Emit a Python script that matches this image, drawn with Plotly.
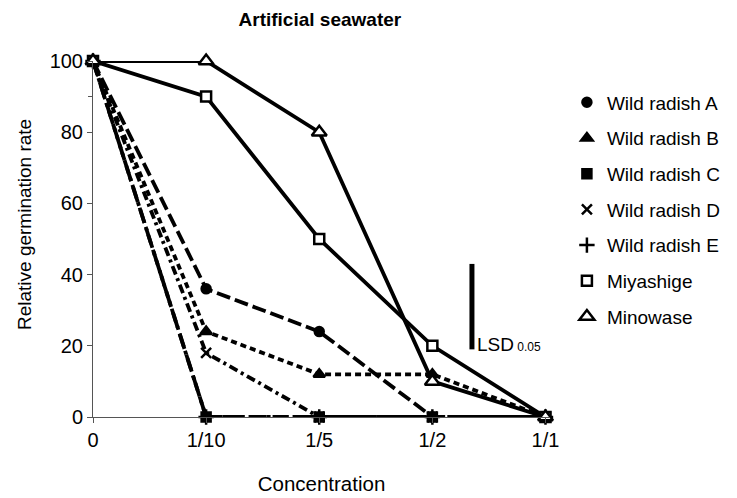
import plotly.graph_objects as go

categories = ["0", "1/10", "1/5", "1/2", "1/1"]
series_names = ["Wild radish A", "Wild radish B", "Wild radish C", "Wild radish D",
                "Wild radish E", "Miyashige", "Minowase"]
wild_a = [100, 36, 24, 0, 0]
wild_b = [100, 24, 12, 12, 0]
wild_c = [100, 0, 0, 0, 0]
wild_d = [100, 18, 0, 0, 0]
wild_e = [100, 0, 0, 0, 0]
miyashige = [100, 90, 50, 20, 0]
minowase = [100, 100, 80, 10, 0]
lsd_x = [3.35, 3.35]
lsd_y = [19, 43]

values = [wild_a, wild_b, wild_c, wild_d, wild_e, miyashige, minowase]
dashes = ["14px,5px", "6px,4px", "14px,4px,4px,4px", "9px,4px,3px,4px", "16px,6px", "solid", "solid"]
symbols = ["circle", "triangle-up", "square", "x-thin", "cross-thin", "square", "triangle-up"]
fills = ["black", "black", "black", "black", "black", "white", "white"]
sizes = [9, 10, 9, 10, 11, 10, 13]

fig = go.Figure()
xs = list(range(len(categories)))
for i, (name, vals) in enumerate(zip(series_names, values)):
    fig.add_trace(go.Scatter(
        x=xs, y=vals, name=name, mode="lines+markers", showlegend=False,
        line=dict(color="black", width=3.8, dash=dashes[i]),
        marker=dict(symbol=symbols[i], size=sizes[i], color=fills[i],
                    line=dict(color="black", width=2.5)),
        cliponaxis=False,
    ))
# legend entries (marker only, like the reference key)
for i, name in enumerate(series_names):
    fig.add_trace(go.Scatter(
        x=[None], y=[None], name=name, mode="markers", legendgroup=name,
        marker=dict(symbol=symbols[i], size=sizes[i], color=fills[i],
                    line=dict(color="black", width=2.5)),
    ))

fig.add_trace(go.Scatter(x=lsd_x, y=lsd_y, mode="lines", showlegend=False,
                         line=dict(color="black", width=5), hoverinfo="skip"))
fig.add_annotation(x=lsd_x[0] + 0.03, y=lsd_y[0] + 1.5, xref="x", yref="y",
                   text="LSD<span style='font-size:12px'> 0.05</span>", showarrow=False,
                   xanchor="left", yanchor="middle", font=dict(size=19, color="black"))

fig.add_annotation(x=-0.151, y=0.542, xref="paper", yref="paper", textangle=-90,
                   text="Relative germination rate", showarrow=False,
                   xanchor="center", yanchor="middle", font=dict(size=19, color="black"))

font = "Liberation Sans, Arial, sans-serif"
fig.update_layout(
    width=737, height=498,
    margin=dict(l=93, r=187, t=61, b=81, autoexpand=False),
    plot_bgcolor="white", paper_bgcolor="white",
    font=dict(family=font, size=19, color="black"),
    title=dict(text="<b>Artificial seawater</b>", x=0.434, xanchor="center", y=0.975, yanchor="top",
               font=dict(size=19)),
    legend=dict(x=1.037, y=0.937, xanchor="left", yanchor="top", tracegroupgap=8,
                itemwidth=30, font=dict(size=19)),
    showlegend=True,
)
fig.update_xaxes(
    tickmode="array", tickvals=xs, ticktext=categories, automargin=False,
    range=[0, 4.04], showline=True, linecolor="#555", linewidth=1,
    ticks="outside", ticklen=5, tickcolor="#555", showgrid=False, zeroline=False,
    title=dict(text="Concentration", standoff=26, font=dict(size=20.5)), tickfont=dict(size=20),
)
fig.update_yaxes(
    range=[0, 100], tickvals=[0, 20, 40, 60, 80, 100], showline=True, linecolor="#555", linewidth=1,
    ticks="outside", ticklen=5, tickcolor="#555", showgrid=False, zeroline=False, automargin=False,
    minor=dict(tickmode="array", tickvals=[90], ticks="outside", ticklen=4, tickcolor="#555"),
    tickfont=dict(size=20),
)
fig.write_html("out.html")
